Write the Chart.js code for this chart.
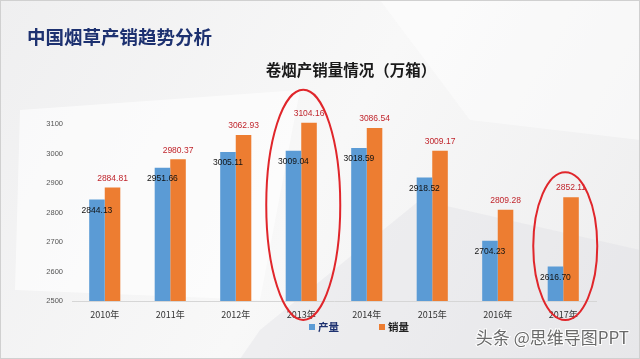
<!DOCTYPE html>
<html><head><meta charset="utf-8">
<script src="https://cdn.jsdelivr.net/npm/chart.js@4/dist/chart.umd.min.js"></script>
<style>html,body{margin:0;padding:0;background:#f4f4f4;}#wrap{width:640px;height:359px;position:relative;}</style>
</head><body><div id="wrap"><canvas id="c" width="640" height="359"></canvas></div>
<script>
const categories = ['2010年','2011年','2012年','2013年','2014年','2015年','2016年','2017年'];
const production = [2844.13, 2951.66, 3005.11, 3009.04, 3018.59, 2918.52, 2704.23, 2616.70];
const sales = [2884.81, 2980.37, 3062.93, 3104.16, 3086.54, 3009.17, 2809.28, 2852.11];
const seriesNames = ['产量', '销量'];
const yMin = 2500, yMax = 3100, yStep = 100;
const highlighted = [3, 7];
const pageTitle = '中国烟草产销趋势分析';
const chartTitle = '卷烟产销量情况（万箱）';
const watermark = '头条 @思维导图PPT';

const BLUE = '#5B9BD5', ORANGE = '#ED7D31';

const decor = {
  id: 'decor',
  beforeDraw(chart) {
    const ctx = chart.ctx;
    ctx.save();
    const g = ctx.createLinearGradient(0, 0, 640, 359);
    g.addColorStop(0, '#efeff0'); g.addColorStop(0.5, '#f8f8f8'); g.addColorStop(1, '#ededee');
    ctx.fillStyle = g; ctx.fillRect(0, 0, 640, 359);
    ctx.fillStyle = 'rgba(255,255,255,0.6)';
    ctx.beginPath(); ctx.moveTo(20, 110); ctx.lineTo(300, 90); ctx.lineTo(260, 300); ctx.lineTo(15, 290); ctx.closePath(); ctx.fill();
    ctx.fillStyle = 'rgba(255,255,255,0.45)';
    ctx.beginPath(); ctx.moveTo(380, 0); ctx.lineTo(640, 0); ctx.lineTo(640, 140); ctx.lineTo(470, 120); ctx.closePath(); ctx.fill();
    ctx.fillStyle = 'rgba(222,222,226,0.35)';
    ctx.beginPath(); ctx.moveTo(260, 330); ctx.lineTo(420, 200); ctx.lineTo(640, 250); ctx.lineTo(640, 359); ctx.lineTo(240, 359); ctx.closePath(); ctx.fill();
    ctx.strokeStyle = '#d0d0d0'; ctx.lineWidth = 1;
    ctx.strokeRect(0.5, 0.5, 639, 358);
    // titles
    ctx.textBaseline = 'middle';
    ctx.fillStyle = '#1d3170';
    ctx.font = 'bold 18.5px "Noto Sans CJK SC"';
    ctx.textAlign = 'left';
    ctx.fillText(pageTitle, 27, 37);
    ctx.fillStyle = '#1a1a1a';
    ctx.font = 'bold 15.5px "Noto Sans CJK SC"';
    ctx.textAlign = 'center';
    ctx.fillText(chartTitle, 351, 70);
    ctx.restore();
  },
  afterDatasetsDraw(chart) {
    const ctx = chart.ctx;
    ctx.save();
    ctx.font = '8.5px "Liberation Sans"';
    ctx.textAlign = 'center'; ctx.textBaseline = 'middle';
    chart.getDatasetMeta(0).data.forEach((b, i) => {
      ctx.fillStyle = '#111';
      ctx.fillText(production[i].toFixed(2), b.x, b.y + 11);
    });
    chart.getDatasetMeta(1).data.forEach((b, i) => {
      ctx.fillStyle = '#c0262d';
      ctx.fillText(sales[i].toFixed(2), b.x, b.y - 9);
    });
    // highlight ellipses
    const xs = chart.scales.x, ys = chart.scales.y;
    const sizes = {3: [37, 33], 7: [32, 25]};
    highlighted.forEach(i => {
      const cx = xs.getPixelForValue(i) + 2;
      const top = ys.getPixelForValue(Math.max(production[i], sales[i])) - sizes[i][1];
      const bottom = chart.chartArea.bottom + 19;
      ctx.strokeStyle = '#e0262b'; ctx.lineWidth = 2;
      ctx.beginPath();
      ctx.ellipse(cx, (top + bottom) / 2, sizes[i][0], (bottom - top) / 2, 0, 0, Math.PI * 2);
      ctx.stroke();
    });
    // legend
    const items = chart.data.datasets;
    const lx = [309, 379];
    ctx.textAlign = 'left';
    ctx.font = 'bold 10.5px "Noto Sans CJK SC"';
    items.forEach((d, k) => {
      ctx.fillStyle = d.backgroundColor;
      ctx.fillRect(lx[k], 324, 6, 6);
      ctx.fillStyle = k === 0 ? '#1d3170' : '#222';
      ctx.fillText(d.label, lx[k] + 9, 327.5);
    });
    // watermark
    ctx.font = '17px "Noto Sans CJK SC"';
    ctx.textAlign = 'right';
    ctx.lineWidth = 2; ctx.strokeStyle = 'rgba(255,255,255,0.9)';
    ctx.strokeText(watermark, 629, 338);
    ctx.fillStyle = '#6a6a6a';
    ctx.fillText(watermark, 629, 338);
    ctx.restore();
  }
};

const clipArea = {left: 0, top: 10, right: 0, bottom: 0};

new Chart(document.getElementById('c'), {
  type: 'bar',
  data: {
    labels: categories,
    datasets: [
      {label: seriesNames[0], data: production, backgroundColor: BLUE, clip: clipArea},
      {label: seriesNames[1], data: sales, backgroundColor: ORANGE, clip: clipArea}
    ]
  },
  options: {
    responsive: false, animation: false,
    layout: {padding: {left: 0, top: 124, right: 44, bottom: 36}},
    datasets: {bar: {categoryPercentage: 0.475, barPercentage: 1}},
    plugins: {legend: {display: false}, tooltip: {enabled: false}, title: {display: false}},
    scales: {
      x: {
        grid: {display: false, drawTicks: false},
        border: {display: true, color: '#d6d6d6'},
        ticks: {padding: 8, color: '#333', font: {size: 9, family: '"Noto Sans CJK SC"'}},
        afterFit(s) { s.height = 22; }
      },
      y: {
        min: yMin, max: yMax,
        grid: {display: false, drawTicks: false},
        border: {display: false},
        ticks: {stepSize: yStep, padding: 9, color: '#555', font: {size: 7.5, family: '"Liberation Sans"'},
          callback: v => String(v)},
        afterFit(s) { s.width = 72; }
      }
    }
  },
  plugins: [decor]
});
</script></body></html>
